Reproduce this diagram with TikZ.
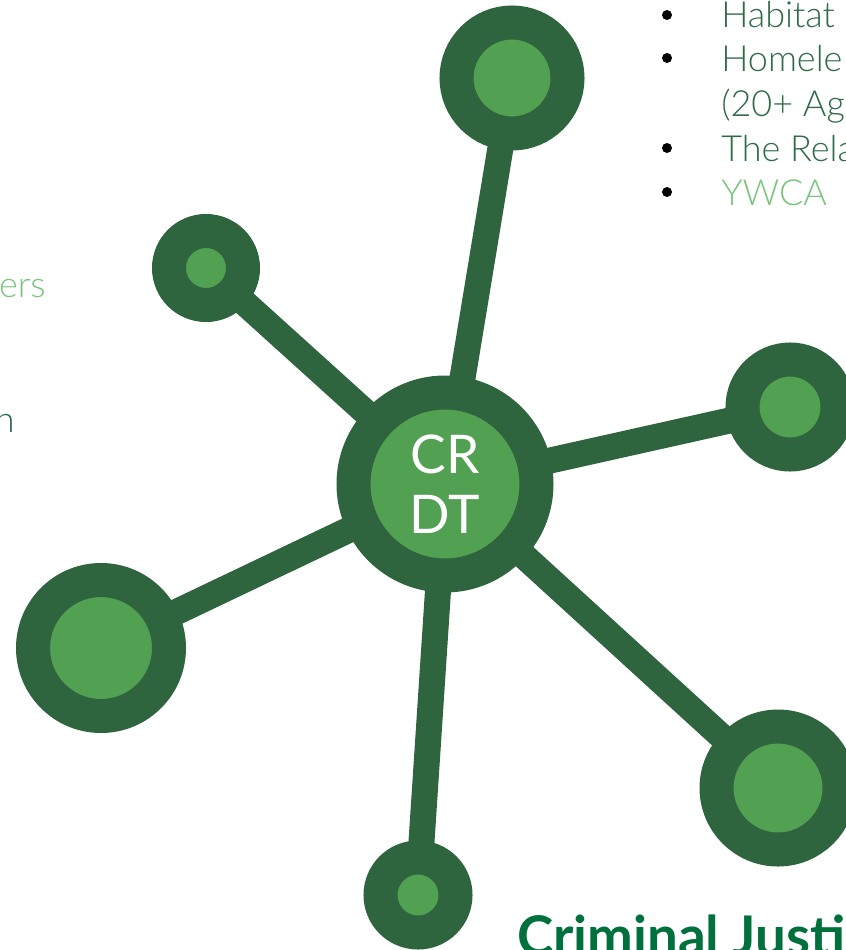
\documentclass[tikz,border=0pt]{standalone}
\usepackage{fontspec}
\setmainfont{Lato}
\newfontfamily\thinfont{Lato Light}
\usetikzlibrary{backgrounds}
\definecolor{ringgreen}{HTML}{2E643E}
\definecolor{dotgreen}{HTML}{52A052}
\definecolor{textdark}{HTML}{2F6B47}
\definecolor{textlight}{HTML}{7BC47F}
\definecolor{titlegreen}{HTML}{00703C}
\begin{document}
\begin{tikzpicture}[x=0.75pt,y=-0.75pt]
        \tikzstyle{hub}=[circle,draw=ringgreen,fill=dotgreen,line width=25.5pt,inner sep=0pt]
        \tikzstyle{spoke}=[draw=ringgreen,line width=19.5pt]
        \tikzstyle{item}=[anchor=base west,inner sep=0pt,font=\thinfont\fontsize{27}{32}\selectfont]
        \tikzstyle{dot}=[circle,fill=black,inner sep=0pt,minimum size=7.5pt]
        \useasboundingbox[clip] (0,0) rectangle (846,950);
        \begin{scope}
           \node [hub,minimum size=137.25pt,text=white,align=center,font=\fontsize{40}{45}\selectfont] (crdt) at (445,484) {CR\\DT};
           \node [hub,minimum size=83.25pt] (n1) at (512,78) {};
           \node [hub,minimum size=55.5pt] (n2) at (206,268) {};
           \node [hub,minimum size=71.25pt] (n3) at (790,407) {};
           \node [hub,minimum size=102pt] (n4) at (101,648) {};
           \node [hub,minimum size=92.25pt] (n5) at (778,788) {};
           \node [hub,minimum size=56.25pt] (n6) at (418,895) {};
           \begin{scope}[on background layer]
              \foreach \n in {n1,n2,n3,n4,n5,n6}
                 \path[spoke] (crdt.center) -- (\n.center);
           \end{scope}
        \end{scope}
        % list on the right
        \node [dot] (b1) at (667,15) {};
        \node [dot] (b2) at (667,58) {};
        \node [dot] (b3) at (667,148) {};
        \node [dot] (b4) at (667,192) {};
        \node [item,text=textdark] (t1) at (721,27) {Habitat};
        \node [item,text=textdark] (t2) at (721,71) {Homele};
        \node [item,text=textdark] (t2b) at (721,116) {(20+ Ag};
        \node [item,text=textdark] (t3) at (721,161) {The Rela};
        \node [item,text=textlight] (t4) at (721,205) {YWCA};
        % cut-off text on the left
        \node [item,anchor=base east,text=textlight] (l1) at (46,297) {ers};
        \node [item,anchor=base east,text=textdark] (l2) at (15,432) {n};
        \node [anchor=base west,inner sep=0pt,text=titlegreen,font=\bfseries\fontsize{41}{48}\selectfont] (title) at (517,955) {Criminal Justi};
      \end{tikzpicture}
\end{document}
